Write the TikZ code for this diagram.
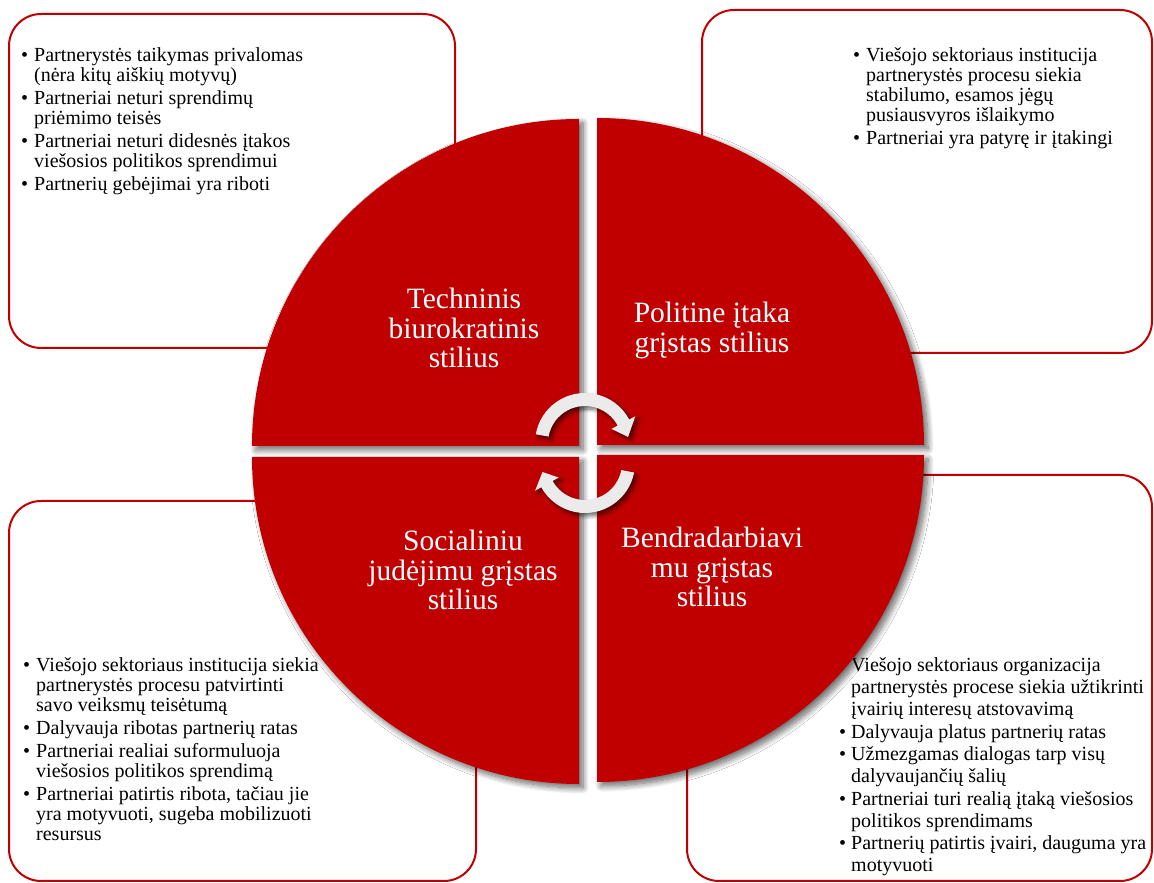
\documentclass[tikz,border=0pt]{standalone}
\usepackage{fontspec}
\setmainfont{Liberation Serif}
\usetikzlibrary{shadows.blur,calc}
\definecolor{myred}{HTML}{C00000}
\definecolor{arrowgray}{HTML}{EBEBEB}
\begin{document}
\begin{tikzpicture}[x=1pt,y=1pt,
  boxframe/.style={draw=myred,line width=2pt,rounded corners=32pt,fill=white},
  boxtext/.style={anchor=base west,inner sep=0pt,font=\fontsize{20}{19.7}\selectfont},
  boxtextwide/.style={boxtext,font=\fontsize{20}{21.9}\selectfont},
  quarter/.style={fill=myred,blur shadow={shadow xshift=4pt,shadow yshift=-4pt,shadow blur radius=6pt,shadow blur steps=12,shadow opacity=60}},
  qlabel/.style={anchor=base,inner sep=0pt,text=white,font=\fontsize{29.5}{29.5}\selectfont},
  cyc/.style={fill=arrowgray,blur shadow={shadow xshift=3pt,shadow yshift=-3pt,shadow blur radius=4pt,shadow blur steps=8,shadow opacity=60}}
]
\useasboundingbox (0,0) rectangle (1154,883);

% outer boxes
\draw[boxframe] (9,869) rectangle (455,535);
\draw[boxframe] (702,873) rectangle (1152,530);
\draw[boxframe] (9,382) rectangle (476,2);
\draw[boxframe] (687,408) rectangle (1152,2);

% box texts
\node[boxtext] (tTL) at (21,821) {\begin{tabular}[t]{@{}l@{\hspace{6pt}}l@{}}
\textbullet & Partnerystės taikymas privalomas\\
 & (nėra kitų aiškių motyvų)\\[3.3pt]
\textbullet & Partneriai neturi sprendimų\\
 & priėmimo teisės\\[3.3pt]
\textbullet & Partneriai neturi didesnės įtakos\\
 & viešosios politikos sprendimui\\[3.3pt]
\textbullet & Partnerių gebėjimai yra riboti
\end{tabular}};

\node[boxtext] (tTR) at (853,821) {\begin{tabular}[t]{@{}l@{\hspace{6pt}}l@{}}
\textbullet & Viešojo sektoriaus institucija\\
 & partnerystės procesu siekia\\
 & stabilumo, esamos jėgų\\
 & pusiausvyros išlaikymo\\[3.3pt]
\textbullet & Partneriai yra patyrę ir įtakingi
\end{tabular}};

\node[boxtext] (tBL) at (23,211) {\begin{tabular}[t]{@{}l@{\hspace{6pt}}l@{}}
\textbullet & Viešojo sektoriaus institucija siekia\\
 & partnerystės procesu patvirtinti\\
 & savo veiksmų teisėtumą\\[3.3pt]
\textbullet & Dalyvauja ribotas partnerių ratas\\[3.3pt]
\textbullet & Partneriai realiai suformuluoja\\
 & viešosios politikos sprendimą\\[3.3pt]
\textbullet & Partneriai patirtis ribota, tačiau jie\\
 & yra motyvuoti, sugeba mobilizuoti\\
 & resursus
\end{tabular}};

\node[boxtextwide] (tBR) at (839,211) {\begin{tabular}[t]{@{}l@{\hspace{5pt}}l@{}}
\textbullet & Viešojo sektoriaus organizacija\\
 & partnerystės procese siekia užtikrinti\\
 & įvairių interesų atstovavimą\\[0.6pt]
\textbullet & Dalyvauja platus partnerių ratas\\[0.6pt]
\textbullet & Užmezgamas dialogas tarp visų\\
 & dalyvaujančių šalių\\[0.6pt]
\textbullet & Partneriai turi realią įtaką viešosios\\
 & politikos sprendimams\\[0.6pt]
\textbullet & Partnerių patirtis įvairi, dauguma yra\\
 & motyvuoti
\end{tabular}};

% quarter discs
\coordinate (cTL) at (579,437);
\coordinate (cTR) at (597,438);
\coordinate (cBL) at (579,426);
\coordinate (cBR) at (597,428);
\fill[quarter] (cTL) -- ++(-327,0) arc[start angle=180,end angle=90,radius=327] -- cycle;
\fill[quarter] (cTR) -- ++(0,327) arc[start angle=90,end angle=0,radius=327] -- cycle;
\fill[quarter] (cBL) -- ++(0,-327) arc[start angle=270,end angle=180,radius=327] -- cycle;
\fill[quarter] (cBR) -- ++(327,0) arc[start angle=0,end angle=-90,radius=327] -- cycle;

% labels
\node[qlabel] (lTL) at (464,574) {\begin{tabular}[t]{@{}c@{}}Techninis\\biurokratinis\\stilius\end{tabular}};
\node[qlabel] (lTR) at (712,560) {\begin{tabular}[t]{@{}c@{}}Politine įtaka\\grįstas stilius\end{tabular}};
\node[qlabel] (lBL) at (463,332) {\begin{tabular}[t]{@{}c@{}}Socialiniu\\judėjimu grįstas\\stilius\end{tabular}};
\node[qlabel] (lBR) at (712,335) {\begin{tabular}[t]{@{}c@{}}Bendradarbiavi\\mu grįstas\\stilius\end{tabular}};

% cycle arrows
\coordinate (a1) at (585,440);
\coordinate (a2) at (585,420);
\fill[cyc] ($(a1)+(170:50)$) arc[start angle=170,end angle=28,radius=50]
  -- ($(a1)+(28:57)$) -- ($(a1)+(8:43.5)$) -- ($(a1)+(28:30)$)
  -- ($(a1)+(28:37)$) arc[start angle=28,end angle=170,radius=37] -- cycle;
\fill[cyc] ($(a2)+(-11:50)$) arc[start angle=-11,end angle=-151,radius=50]
  -- ($(a2)+(-151:57)$) -- ($(a2)+(-168:43.5)$) -- ($(a2)+(-151:30)$)
  -- ($(a2)+(-151:37)$) arc[start angle=-151,end angle=-11,radius=37] -- cycle;
\end{tikzpicture}
\end{document}
